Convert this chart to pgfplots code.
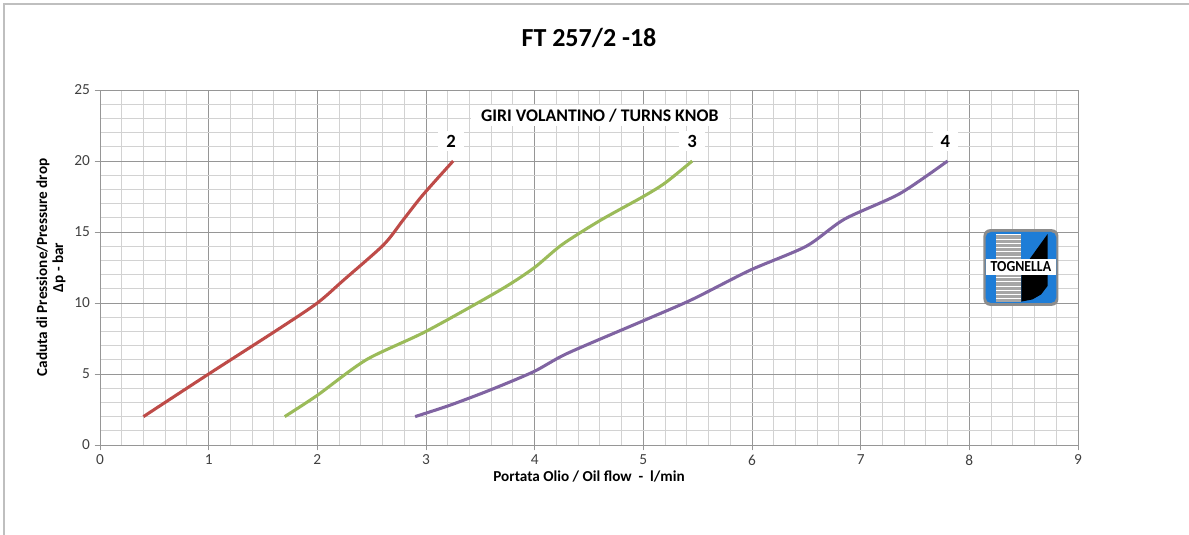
\documentclass[border=0pt]{standalone}
\usepackage{fontspec}
\setmainfont{Carlito}
\usepackage{pgfplots}
\pgfplotsset{compat=1.18}
\definecolor{cred}{RGB}{190,75,72}
\definecolor{cgreen}{RGB}{155,187,89}
\definecolor{cpurple}{RGB}{128,100,162}
\definecolor{majgrid}{RGB}{150,150,150}
\definecolor{mingrid}{RGB}{210,210,210}
\definecolor{logoblue}{RGB}{30,125,215}
\begin{document}
\begin{tikzpicture}
\path[use as bounding box] (-75pt,-67.5pt) rectangle (816.75pt,333.75pt);
\draw[color=black!25,line width=0.8pt] (-72pt,-67.5pt) -- (-72pt,330.75pt) -- (816.75pt,330.75pt);
\begin{axis}[
  scale only axis,
  width=733.5pt, height=266.25pt,
  xmin=0, xmax=9, ymin=0, ymax=25,
  xtick={0,...,9}, ytick={0,5,...,25},
  minor x tick num=4, minor y tick num=4,
  grid=both,
  major grid style={majgrid, line width=0.6pt},
  minor grid style={mingrid, line width=0.7pt},
  axis lines=left,
  axis line style={majgrid, line width=0.6pt, -},
  tick align=outside,
  major tick length=4pt, minor tick length=0pt,
  tick style={majgrid, line width=0.6pt},
  ticklabel style={font=\fontsize{11.5}{13}\selectfont, text=black!75},
  /pgf/number format/assume math mode=true,
  xlabel={\bfseries Portata Olio / Oil flow\ \ -\ \ l/min},
  xlabel style={font=\fontsize{11.4}{13}\selectfont, yshift=3pt},
  ylabel={\bfseries\begin{tabular}{c}Caduta di Pressione/Pressure drop\\ Δp - bar\end{tabular}},
  ylabel style={font=\fontsize{11.4}{12}\selectfont, yshift=-2pt},
  title={\bfseries FT 257/2 -18},
  title style={font=\fontsize{19.5}{22}\selectfont, yshift=22pt},
  clip=false,
]
\addplot[cred, line width=2.3pt, smooth, tension=0.45] coordinates {
(0.4,2) (1,5) (1.63,8.1) (2,10) (2.24,11.6) (2.61,14.1) (2.79,15.85) (2.97,17.6) (3.25,20)};
\addplot[cgreen, line width=2.3pt, smooth, tension=0.45] coordinates {
(1.7,2) (2,3.5) (2.45,6.0) (3.0,8.0) (3.68,10.9) (3.99,12.45) (4.25,14.1) (4.6,15.8) (5.0,17.5) (5.2,18.45) (5.45,20)};
\addplot[cpurple, line width=2.3pt, smooth, tension=0.45] coordinates {
(2.9,2) (3.22,2.8) (3.59,3.87) (3.99,5.16) (4.3,6.45) (5.0,8.75) (5.45,10.25) (5.98,12.3) (6.5,14.0) (6.85,15.9) (7.36,17.7) (7.8,20)};
\node[fill=white, font=\bfseries\fontsize{13.3}{15}\selectfont, inner xsep=8pt, inner ysep=3pt] at (axis cs:4.6,23.2) {GIRI VOLANTINO / TURNS KNOB};
\node[fill=white, font=\bfseries\fontsize{14}{15}\selectfont, inner xsep=6pt, inner ysep=3pt] at (axis cs:3.23,21.4) {2};
\node[fill=white, font=\bfseries\fontsize{14}{15}\selectfont, inner xsep=6pt, inner ysep=3pt] at (axis cs:5.45,21.4) {3};
\node[fill=white, font=\bfseries\fontsize{14}{15}\selectfont, inner xsep=6pt, inner ysep=3pt] at (axis cs:7.78,21.4) {4};
% logo
\fill[black!45, rounded corners=5pt] (axis cs:8.13,9.8) rectangle (axis cs:8.82,15.2);
\fill[logoblue, rounded corners=4pt] (axis cs:8.15,10.0) rectangle (axis cs:8.80,15.0);
\fill[black!35] (axis cs:8.25,10.1) rectangle (axis cs:8.48,14.85);
\pgfplotsinvokeforeach{10.3,10.6,...,14.8}{\draw[white, line width=0.6pt] (axis cs:8.25,#1) -- (axis cs:8.48,#1);}
\fill[black] (axis cs:8.48,10.1) -- (axis cs:8.48,12.3) -- (axis cs:8.72,14.85) -- (axis cs:8.72,11.2) -- (axis cs:8.66,10.6) -- (axis cs:8.58,10.25) -- cycle;
\fill[white] (axis cs:8.15,12.0) rectangle (axis cs:8.80,13.1);
\node[font=\bfseries\fontsize{11.5}{12}\selectfont, inner sep=0pt, xscale=0.9] at (axis cs:8.475,12.55) {TOGNELLA};
\end{axis}
\end{tikzpicture}
\end{document}
